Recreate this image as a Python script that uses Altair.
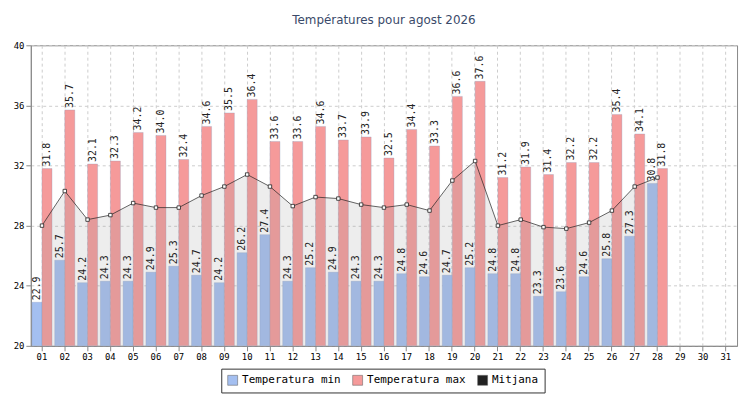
import altair as alt
import pandas as pd

days = [f"{d:02d}" for d in range(1, 32)]
t_max = [31.8, 35.7, 32.1, 32.3, 34.2, 34.0, 32.4, 34.6, 35.5, 36.4, 33.6, 33.6, 34.6, 33.7,
         33.9, 32.5, 34.4, 33.3, 36.6, 37.6, 31.2, 31.9, 31.4, 32.2, 32.2, 35.4, 34.1, 31.8]
t_min = [22.9, 25.7, 24.2, 24.3, 24.3, 24.9, 25.3, 24.7, 24.2, 26.2, 27.4, 24.3, 25.2, 24.9,
         24.3, 24.3, 24.8, 24.6, 24.7, 25.2, 24.8, 24.8, 23.3, 23.6, 24.6, 25.8, 27.3, 30.8]
t_mean = [28.0, 30.3, 28.4, 28.7, 29.5, 29.2, 29.2, 30.0, 30.6, 31.4, 30.6, 29.3, 29.9, 29.8,
          29.4, 29.2, 29.4, 29.0, 31.0, 32.3, 28.0, 28.4, 27.9, 27.8, 28.2, 29.0, 30.6, 31.2]

n = len(t_max)
bars = pd.DataFrame({
    "day": days[:n] * 2,
    "serie": ["Temperatura min"] * n + ["Temperatura max"] * n,
    "val": t_min + t_max,
})
mean_df = pd.DataFrame({"day": days[:n], "val": t_mean, "serie": "Mitjana"})

font = "DejaVu Sans Mono"
x = alt.X("day:N", scale=alt.Scale(domain=days, paddingInner=0.12, paddingOuter=0.05),
          axis=alt.Axis(title=None, labelAngle=0, labelFont=font, labelFontSize=9, grid=True,
                        gridDash=[3, 3], gridColor="#ccc", tickColor="#888", domainColor="#888"))
y = alt.Y("val:Q", scale=alt.Scale(domain=[20, 40], zero=False, nice=False),
          axis=alt.Axis(title=None, values=list(range(20, 41, 4)), labelFont=font, labelFontSize=9,
                        gridDash=[3, 3], gridColor="#ccc", tickColor="#888", domainColor="#888"))
color = alt.Color("serie:N", scale=alt.Scale(
    domain=["Temperatura min", "Temperatura max", "Mitjana"],
    range=["#a4bff0", "#f59a9a", "#222222"]),
    legend=alt.Legend(title=None, orient="none", legendX=192, legendY=326,
                      direction="horizontal", symbolType="square",
                      labelFont=font, labelFontSize=11, strokeColor="#333", padding=6,
                      symbolStrokeColor="#555", symbolStrokeWidth=0.5))
sort = ["Temperatura min", "Temperatura max"]

bar = alt.Chart(bars).mark_bar(stroke="#8899bb", strokeWidth=0.3).encode(
    x=x, xOffset=alt.XOffset("serie:N", sort=sort), y=y, y2=alt.datum(20), color=color)
labels = alt.Chart(bars).mark_text(angle=270, align="left", baseline="middle", dx=2,
                                   font=font, fontSize=10, color="#222").encode(
    x=x, xOffset=alt.XOffset("serie:N", sort=sort), y=y, text=alt.Text("val:Q", format=".1f"))
area = alt.Chart(mean_df).mark_area(color="#999", opacity=0.18).encode(
    x=x, y=y, y2=alt.datum(20))
line = alt.Chart(mean_df).mark_line(color="#222", strokeWidth=0.7).encode(x=x, y=y)
pts = alt.Chart(mean_df).mark_point(shape="square", size=12, filled=True, fill="white",
                                    stroke="#222", strokeWidth=0.8, opacity=1).encode(x=x, y=y)

chart = alt.layer(bar, area, line, pts, labels).properties(
    width=712, height=303,
    title=alt.Title("Températures pour agost 2026", font="DejaVu Sans", fontSize=12,
                    fontWeight="normal", color="#3a4a6a", offset=14),
).configure_view(stroke="#888")

chart.save("out.html", embed_options={"renderer": "svg", "actions": False})
